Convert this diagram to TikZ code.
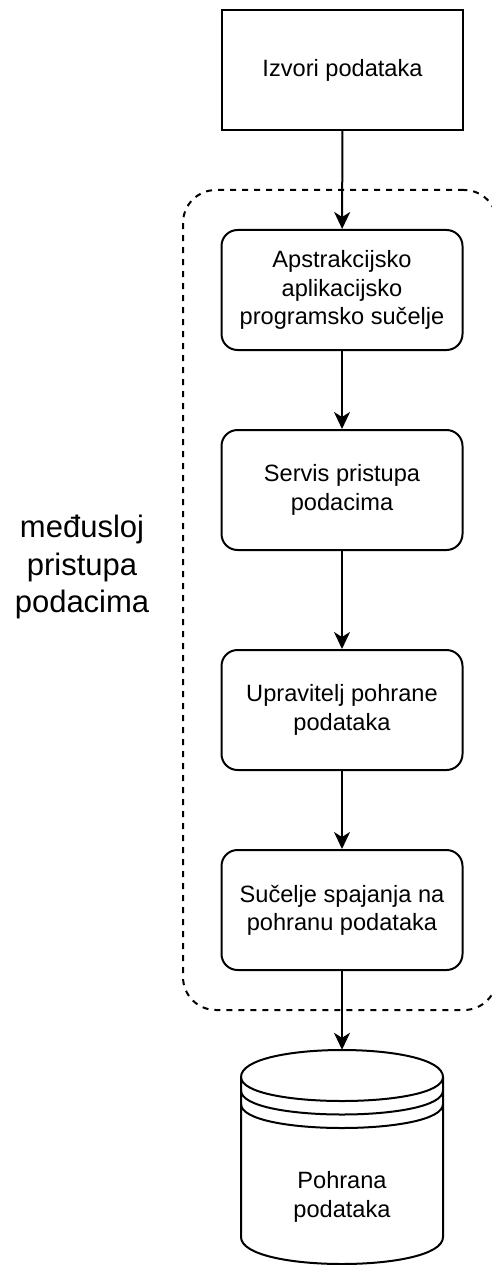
\documentclass[tikz,border=0pt]{standalone}
\usepackage{fontspec}
\setmainfont{Liberation Sans}
\usetikzlibrary{arrows.meta}
\begin{document}
\begin{tikzpicture}[x=1pt,y=-1pt,
  boxtext/.style={font=\fontsize{23.6}{28.3}\selectfont, align=center},
  plainbox/.style={boxtext, draw=black, line width=2pt, minimum width=241pt, minimum height=120pt, inner sep=0pt},
  roundbox/.style={plainbox, rounded corners=16pt},
  conn/.style={line width=2pt, -{Stealth[length=17pt, width=16pt, inset=5pt]}},
  layerbox/.style={draw=black, line width=2pt, dash pattern=on 6pt off 6pt, rounded corners=33pt, minimum width=314pt, minimum height=820pt, inner sep=0pt},
  dbline/.style={line width=2pt, draw=black}
]
\useasboundingbox (0,0) rectangle (492,1265);
\begin{scope}
  \clip (0,0) rectangle (492,1265);
  \node[layerbox] (layer) at (340,600) {};
\end{scope}
\node[font=\fontsize{31}{37.5}\selectfont, align=center] (lbl) at (82,567) {međusloj\\pristupa\\podacima};
\node[plainbox] (src) at (342.5,70) {Izvori podataka};
\node[roundbox] (api) at (342,290) {Apstrakcijsko\\aplikacijsko\\programsko sučelje};
\node[roundbox] (svc) at (342,490) {Servis pristupa\\podacima};
\node[roundbox] (mgr) at (342,710) {Upravitelj pohrane\\podataka};
\node[roundbox] (ifc) at (342,910) {Sučelje spajanja na\\pohranu podataka};
\node[minimum width=202pt, minimum height=214pt, inner sep=0pt] (db) at (342,1157) {};
\draw[dbline, fill=white] (241,1077) .. controls (241,1041) and (443,1041) .. (443,1077)
  -- (443,1237) .. controls (443,1273) and (241,1273) .. (241,1237) -- cycle;
\draw[dbline] (241,1077) .. controls (241,1109) and (443,1109) .. (443,1077);
\draw[dbline] (241,1090.5) .. controls (241,1122.5) and (443,1122.5) .. (443,1090.5);
\draw[dbline] (241,1104) .. controls (241,1136) and (443,1136) .. (443,1104);
\node[boxtext] (dbtxt) at (342,1197) {Pohrana\\podataka};
\draw[conn] (src) -- (api);
\draw[conn] (api) -- (svc);
\draw[conn] (svc) -- (mgr);
\draw[conn] (mgr) -- (ifc);
\draw[conn] (ifc) -- (db.north);
\end{tikzpicture}
\end{document}
